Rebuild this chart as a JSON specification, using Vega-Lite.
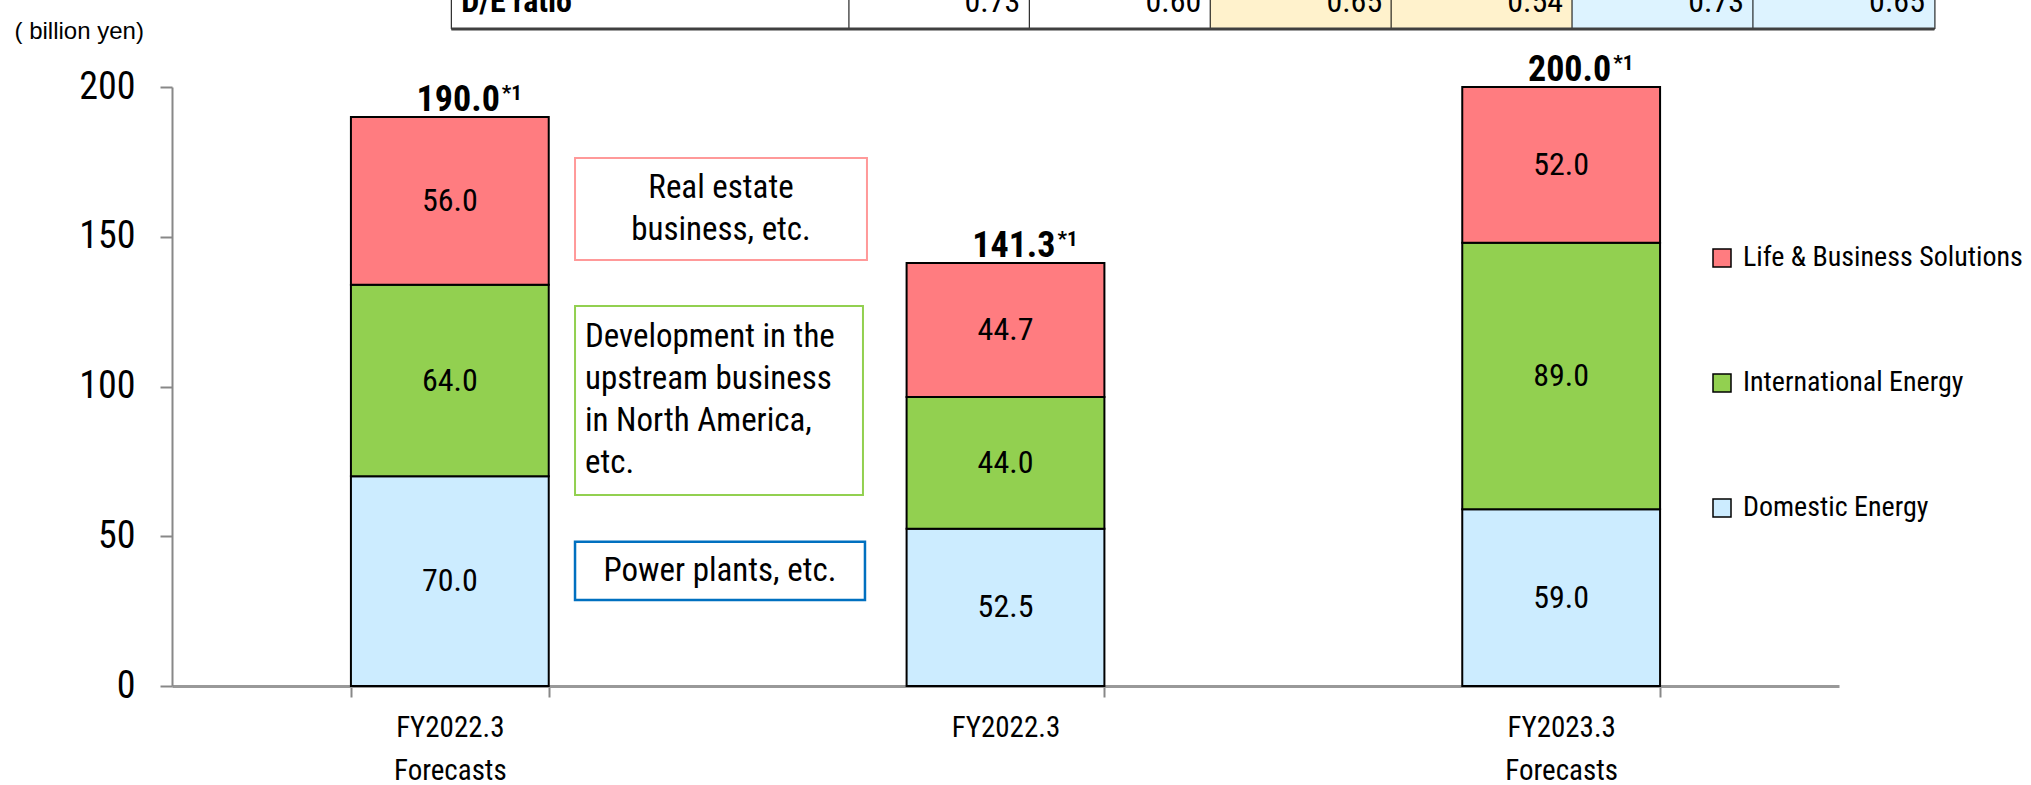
{
  "$schema": "https://vega.github.io/schema/vega-lite/v6.json",
  "width": 1667,
  "height": 599,
  "autosize": {"type": "none"},
  "padding": {"left": 172, "top": 87, "right": 192, "bottom": 99},
  "background": "white",
  "config": {
    "view": {"stroke": null},
    "font": "Roboto Condensed",
    "text": {"font": "Roboto Condensed", "color": "black"},
    "axis": {"labelFont": "Roboto Condensed", "labelColor": "black", "grid": false, "zindex": 1},
    "axisY": {"titleAngle": 0, "titleX": -158, "titleY": -56, "titleAlign": "left", "titleBaseline": "middle", "titleFont": "Liberation Sans", "titleFontSize": 24, "titleFontWeight": "normal", "titleColor": "black"}
  },
  "datasets": {
    "segments": [
      {"period": "FY2022.3 Forecasts", "segment": "Domestic Energy", "value": 70.0},
      {"period": "FY2022.3 Forecasts", "segment": "International Energy", "value": 64.0},
      {"period": "FY2022.3 Forecasts", "segment": "Life & Business Solutions", "value": 56.0},
      {"period": "FY2022.3", "segment": "Domestic Energy", "value": 52.5},
      {"period": "FY2022.3", "segment": "International Energy", "value": 44.0},
      {"period": "FY2022.3", "segment": "Life & Business Solutions", "value": 44.7},
      {"period": "FY2023.3 Forecasts", "segment": "Domestic Energy", "value": 59.0},
      {"period": "FY2023.3 Forecasts", "segment": "International Energy", "value": 89.0},
      {"period": "FY2023.3 Forecasts", "segment": "Life & Business Solutions", "value": 52.0}
    ],
    "totals": [
      {"period": "FY2022.3 Forecasts", "total": 190.0, "mark": "*1"},
      {"period": "FY2022.3", "total": 141.3, "mark": "*1"},
      {"period": "FY2023.3 Forecasts", "total": 200.0, "mark": "*1"}
    ],
    "notes": [
      {"segment": "Life & Business Solutions", "note": "Real estate\nbusiness, etc."},
      {"segment": "International Energy", "note": "Development in the\nupstream business\nin North America,\netc."},
      {"segment": "Domestic Energy", "note": "Power plants, etc."}
    ],
    "de_ratio": [
      {"item": "D/E ratio", "col": 1, "ratio": 0.73},
      {"item": "D/E ratio", "col": 2, "ratio": 0.60},
      {"item": "D/E ratio", "col": 3, "ratio": 0.65},
      {"item": "D/E ratio", "col": 4, "ratio": 0.54},
      {"item": "D/E ratio", "col": 5, "ratio": 0.73},
      {"item": "D/E ratio", "col": 6, "ratio": 0.65}
    ]
  },
  "layer": [
    {
      "layer": [
        {
          "data": {"name": "segments"},
          "mark": {"type": "bar", "stroke": "black", "strokeWidth": 2},
          "encoding": {
            "x": {
              "field": "period", "type": "nominal",
              "scale": {"type": "band", "domain": ["FY2022.3 Forecasts", "FY2022.3", "FY2023.3 Forecasts"], "paddingInner": 0.644, "paddingOuter": 0.322},
              "axis": {"title": null, "tickBand": "extent", "labelExpr": "split(datum.label, ' ')", "labelAngle": 0, "labelFontSize": 29, "labelLineHeight": 43, "labelPadding": 16, "labelBaseline": "top", "tickSize": 11, "tickColor": "#888888", "tickWidth": 2, "domainColor": "#999999", "domainWidth": 3}
            },
            "y": {
              "field": "value", "type": "quantitative", "stack": "zero", "title": "( billion yen)",
              "scale": {"domain": [0, 200], "nice": false},
              "axis": {"values": [0, 50, 100, 150, 200], "labelFontSize": 38, "labelPadding": 25, "tickSize": 12, "tickColor": "#888888", "tickWidth": 2, "domainColor": "#888888", "domainWidth": 2}
            },
            "color": {
              "field": "segment", "type": "nominal",
              "scale": {"domain": ["Life & Business Solutions", "International Energy", "Domestic Energy"], "range": ["#FF7C80", "#92D050", "#CCECFF"]},
              "legend": {"orient": "none", "legendX": 1536, "legendY": 157, "title": null, "symbolType": "square", "symbolSize": 324, "symbolStrokeColor": "black", "symbolStrokeWidth": 1.5, "labelFontSize": 28, "labelColor": "black", "labelOffset": 7, "rowPadding": 97, "labelLimit": 400}
            },
            "order": {"field": "segment", "sort": "ascending"}
          }
        },
        {
          "data": {"name": "segments"},
          "transform": [
            {"stack": "value", "groupby": ["period"], "sort": [{"field": "segment", "order": "ascending"}], "as": ["v0", "v1"]},
            {"calculate": "(datum.v0 + datum.v1) / 2", "as": "mid"}
          ],
          "mark": {"type": "text", "fontSize": 32, "baseline": "middle", "align": "center"},
          "encoding": {
            "x": {"field": "period", "type": "nominal", "scale": {"type": "band", "domain": ["FY2022.3 Forecasts", "FY2022.3", "FY2023.3 Forecasts"], "paddingInner": 0.644, "paddingOuter": 0.322}},
            "y": {"field": "mid", "type": "quantitative", "title": "( billion yen)"},
            "text": {"field": "value", "type": "quantitative", "format": ".1f"}
          }
        },
        {
          "data": {"name": "totals"},
          "mark": {"type": "text", "fontSize": 36, "fontWeight": "bold", "align": "right", "baseline": "alphabetic", "dx": 50, "dy": -6},
          "encoding": {
            "x": {"field": "period", "type": "nominal", "scale": {"type": "band", "domain": ["FY2022.3 Forecasts", "FY2022.3", "FY2023.3 Forecasts"], "paddingInner": 0.644, "paddingOuter": 0.322}},
            "y": {"field": "total", "type": "quantitative", "title": "( billion yen)"},
            "text": {"field": "total", "type": "quantitative", "format": ".1f"}
          }
        },
        {
          "data": {"name": "totals"},
          "mark": {"type": "text", "fontSize": 21, "fontWeight": "bold", "align": "left", "baseline": "alphabetic", "dx": 52, "dy": -17},
          "encoding": {
            "x": {"field": "period", "type": "nominal", "scale": {"type": "band", "domain": ["FY2022.3 Forecasts", "FY2022.3", "FY2023.3 Forecasts"], "paddingInner": 0.644, "paddingOuter": 0.322}},
            "y": {"field": "total", "type": "quantitative", "title": "( billion yen)"},
            "text": {"field": "mark", "type": "nominal"}
          }
        }
      ]
    },
    {
      "data": {"name": "notes"},
      "transform": [{"filter": "datum.segment === 'Life & Business Solutions'"}],
      "layer": [
        {
          "mark": {"type": "rect", "fill": "white", "stroke": "#FF9999", "strokeWidth": 2},
          "encoding": {
            "x": {"datum": 0.7253, "type": "quantitative", "scale": {"domain": [0, 3], "nice": false, "zero": false}, "axis": null},
            "x2": {"datum": 1.2507},
            "y": {"datum": 176.3, "type": "quantitative", "title": "( billion yen)"},
            "y2": {"datum": 142.2}
          }
        },
        {
          "mark": {"type": "text", "fontSize": 33, "align": "center", "baseline": "middle", "lineBreak": "\n", "lineHeight": 42},
          "encoding": {
            "x": {"datum": 0.988, "type": "quantitative", "scale": {"domain": [0, 3], "nice": false, "zero": false}, "axis": null},
            "y": {"datum": 166.3, "type": "quantitative", "title": "( billion yen)"},
            "text": {"field": "note"}
          }
        }
      ]
    },
    {
      "data": {"name": "notes"},
      "transform": [{"filter": "datum.segment === 'International Energy'"}],
      "layer": [
        {
          "mark": {"type": "rect", "fill": "white", "stroke": "#92D050", "strokeWidth": 2},
          "encoding": {
            "x": {"datum": 0.7253, "type": "quantitative", "scale": {"domain": [0, 3], "nice": false, "zero": false}, "axis": null},
            "x2": {"datum": 1.2435},
            "y": {"datum": 126.9, "type": "quantitative", "title": "( billion yen)"},
            "y2": {"datum": 63.8}
          }
        },
        {
          "mark": {"type": "text", "fontSize": 33, "align": "left", "baseline": "middle", "lineBreak": "\n", "lineHeight": 42},
          "encoding": {
            "x": {"datum": 0.7432, "type": "quantitative", "scale": {"domain": [0, 3], "nice": false, "zero": false}, "axis": null},
            "y": {"datum": 116.4, "type": "quantitative", "title": "( billion yen)"},
            "text": {"field": "note"}
          }
        }
      ]
    },
    {
      "data": {"name": "notes"},
      "transform": [{"filter": "datum.segment === 'Domestic Energy'"}],
      "layer": [
        {
          "mark": {"type": "rect", "fill": "white", "stroke": "#0070C0", "strokeWidth": 2.5},
          "encoding": {
            "x": {"datum": 0.7253, "type": "quantitative", "scale": {"domain": [0, 3], "nice": false, "zero": false}, "axis": null},
            "x2": {"datum": 1.2471},
            "y": {"datum": 48.2, "type": "quantitative", "title": "( billion yen)"},
            "y2": {"datum": 28.7}
          }
        },
        {
          "mark": {"type": "text", "fontSize": 33, "align": "center", "baseline": "middle"},
          "encoding": {
            "x": {"datum": 0.986, "type": "quantitative", "scale": {"domain": [0, 3], "nice": false, "zero": false}, "axis": null},
            "y": {"datum": 38.5, "type": "quantitative", "title": "( billion yen)"},
            "text": {"field": "note"}
          }
        }
      ]
    },
    {
      "data": {"name": "de_ratio"},
      "layer": [
        {
          "mark": {"type": "bar", "width": 182, "stroke": "black", "strokeWidth": 1, "clip": false},
          "encoding": {
            "x": {"field": "col", "type": "quantitative", "scale": {"domain": [-3.2143, 5.9451], "nice": false, "zero": false}, "axis": null},
            "y": {"datum": 219.37, "type": "quantitative", "title": "( billion yen)"},
            "y2": {"datum": 245},
            "fill": {"condition": [{"test": "datum.col >= 5", "value": "#DDF3FF"}, {"test": "datum.col >= 3", "value": "#FFF2CC"}], "value": "white"}
          }
        },
        {
          "mark": {"type": "text", "fontSize": 32, "align": "right", "baseline": "alphabetic", "dx": 81},
          "encoding": {
            "x": {"field": "col", "type": "quantitative", "scale": {"domain": [-3.2143, 5.9451], "nice": false, "zero": false}, "axis": null},
            "y": {"datum": 225.04, "type": "quantitative", "title": "( billion yen)"},
            "text": {"field": "ratio", "type": "quantitative", "format": ".2f"}
          }
        },
        {
          "transform": [{"filter": "datum.col === 1"}],
          "mark": {"type": "rect", "fill": "white", "stroke": "black", "strokeWidth": 1},
          "encoding": {
            "x": {"datum": -1.698, "type": "quantitative", "scale": {"domain": [-3.2143, 5.9451], "nice": false, "zero": false}, "axis": null},
            "x2": {"datum": 0.5},
            "y": {"datum": 219.37, "type": "quantitative", "title": "( billion yen)"},
            "y2": {"datum": 245}
          }
        },
        {
          "transform": [{"filter": "datum.col === 1"}],
          "mark": {"type": "text", "fontSize": 32, "fontWeight": "bold", "align": "left", "baseline": "alphabetic"},
          "encoding": {
            "x": {"datum": -1.643, "type": "quantitative", "scale": {"domain": [-3.2143, 5.9451], "nice": false, "zero": false}, "axis": null},
            "y": {"datum": 225.04, "type": "quantitative", "title": "( billion yen)"},
            "text": {"field": "item"}
          }
        },
        {
          "transform": [{"filter": "datum.col === 1"}],
          "mark": {"type": "rule", "stroke": "#404040", "strokeWidth": 3},
          "encoding": {
            "x": {"datum": -1.698, "type": "quantitative", "scale": {"domain": [-3.2143, 5.9451], "nice": false, "zero": false}, "axis": null},
            "x2": {"datum": 6.5},
            "y": {"datum": 219.37, "type": "quantitative", "title": "( billion yen)"}
          }
        }
      ]
    }
  ],
  "resolve": {"scale": {"x": "independent"}}
}
